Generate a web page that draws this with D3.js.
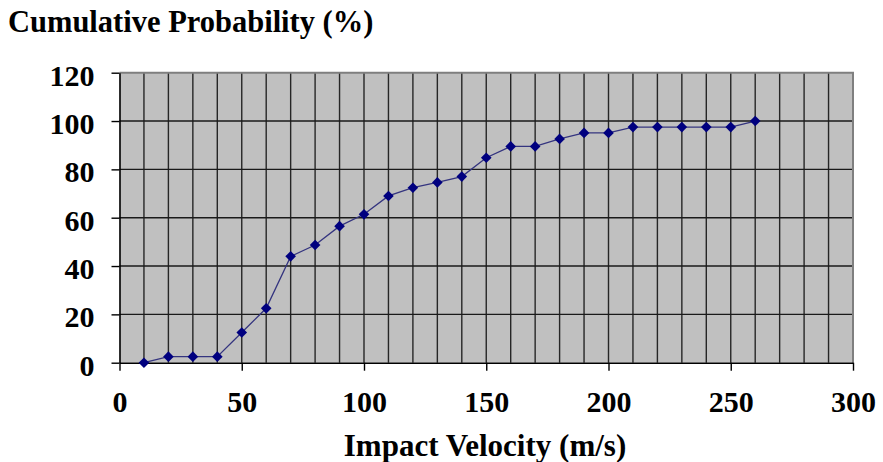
<!DOCTYPE html>
<html>
<head>
<meta charset="utf-8">
<script src="https://cdn.jsdelivr.net/npm/d3@7"></script>
<style>
  html, body { margin: 0; padding: 0; background: #fff; }
</style>
</head>
<body>
<div id="chart"></div>
<script>
// data
const velocity = [10, 20, 30, 40, 50, 60, 70, 80, 90, 100, 110, 120, 130,
                  140, 150, 160, 170, 180, 190, 200, 210, 220, 230, 240, 250, 260];
const cumProb = [0, 2.5, 2.5, 2.5, 12.5, 22.5, 44, 48.7, 56.5, 61.4, 69, 72.4, 74.6,
                 77, 84.8, 89.5, 89.5, 92.6, 95.1, 95.1, 97.5, 97.5, 97.5, 97.5, 97.5, 100];
const xTicks = [0, 50, 100, 150, 200, 250, 300];
const yTicks = [0, 20, 40, 60, 80, 100, 120];
const xGrid = d3.range(0, 301, 10);

const width = 883, height = 462;
const plotLeft = 119.5, plotRight = 853, plotTop = 72.7, plotBottom = 362.7;
const serif = "Liberation Serif";

const svg = d3.select("#chart").append("svg")
    .attr("width", width)
    .attr("height", height);

const x = d3.scaleLinear().domain([0, 300]).range([plotLeft, plotRight]);
const y = d3.scaleLinear().domain([0, 120]).range([plotBottom, plotTop]);

// plot background
svg.append("rect")
    .attr("x", plotLeft).attr("y", plotTop)
    .attr("width", plotRight - plotLeft).attr("height", plotBottom - plotTop)
    .attr("fill", "#c0c0c0");

// grid
svg.append("g").selectAll("line")
    .data(xGrid.slice(1, -1))
    .join("line")
    .attr("x1", d => x(d)).attr("x2", d => x(d))
    .attr("y1", plotTop).attr("y2", plotBottom)
    .attr("stroke", "#262626").attr("stroke-width", 1.4);

svg.append("g").selectAll("line")
    .data(yTicks.slice(1, -1))
    .join("line")
    .attr("x1", plotLeft).attr("x2", plotRight)
    .attr("y1", d => y(d)).attr("y2", d => y(d))
    .attr("stroke", "#1a1a1a").attr("stroke-width", 1.4);

// top / right frame in gray
svg.append("path")
    .attr("d", `M${plotLeft},${plotTop}H${plotRight}V${plotBottom}`)
    .attr("fill", "none").attr("stroke", "#7f7f7f").attr("stroke-width", 2);

// axes
const xAxis = svg.append("g")
    .attr("transform", `translate(0,${plotBottom})`)
    .call(d3.axisBottom(x).tickValues(xTicks).tickSize(8).tickPadding(0).tickSizeOuter(0));
const yAxis = svg.append("g")
    .attr("transform", `translate(${plotLeft},0)`)
    .call(d3.axisLeft(y).tickValues(yTicks).tickSize(8).tickPadding(17).tickSizeOuter(0));

[xAxis, yAxis].forEach(g => {
  g.attr("font-family", serif);
  g.select(".domain").attr("stroke", "#000").attr("stroke-width", 1.6);
  g.selectAll(".tick line").attr("stroke", "#000").attr("stroke-width", 1.4);
  g.selectAll("text")
      .attr("font-family", serif)
      .attr("font-weight", "bold")
      .attr("font-size", 30)
      .attr("fill", "#000");
});
xAxis.selectAll("text").attr("y", 49).attr("dy", null);
yAxis.selectAll("text").attr("y", 12.5).attr("dy", null);

// series line + diamond markers
svg.append("path")
    .datum(velocity.map((v, i) => [v, cumProb[i]]))
    .attr("d", d3.line().x(d => x(d[0])).y(d => y(d[1])))
    .attr("fill", "none")
    .attr("stroke", "#34347f")
    .attr("stroke-width", 1.3);

svg.append("g").selectAll("path")
    .data(velocity)
    .join("path")
    .attr("transform", (d, i) => `translate(${x(d)},${y(cumProb[i])})`)
    .attr("d", d3.symbol(d3.symbolDiamond2, 72))
    .attr("fill", "#00007f");

// titles
svg.append("text")
    .attr("x", 8).attr("y", 32)
    .attr("font-family", serif).attr("font-weight", "bold")
    .attr("font-size", 30.5)
    .text("Cumulative Probability (%)");

svg.append("text")
    .attr("x", 485).attr("y", 456)
    .attr("text-anchor", "middle")
    .attr("font-family", serif).attr("font-weight", "bold")
    .attr("font-size", 31)
    .text("Impact Velocity (m/s)");
</script>
</body>
</html>
